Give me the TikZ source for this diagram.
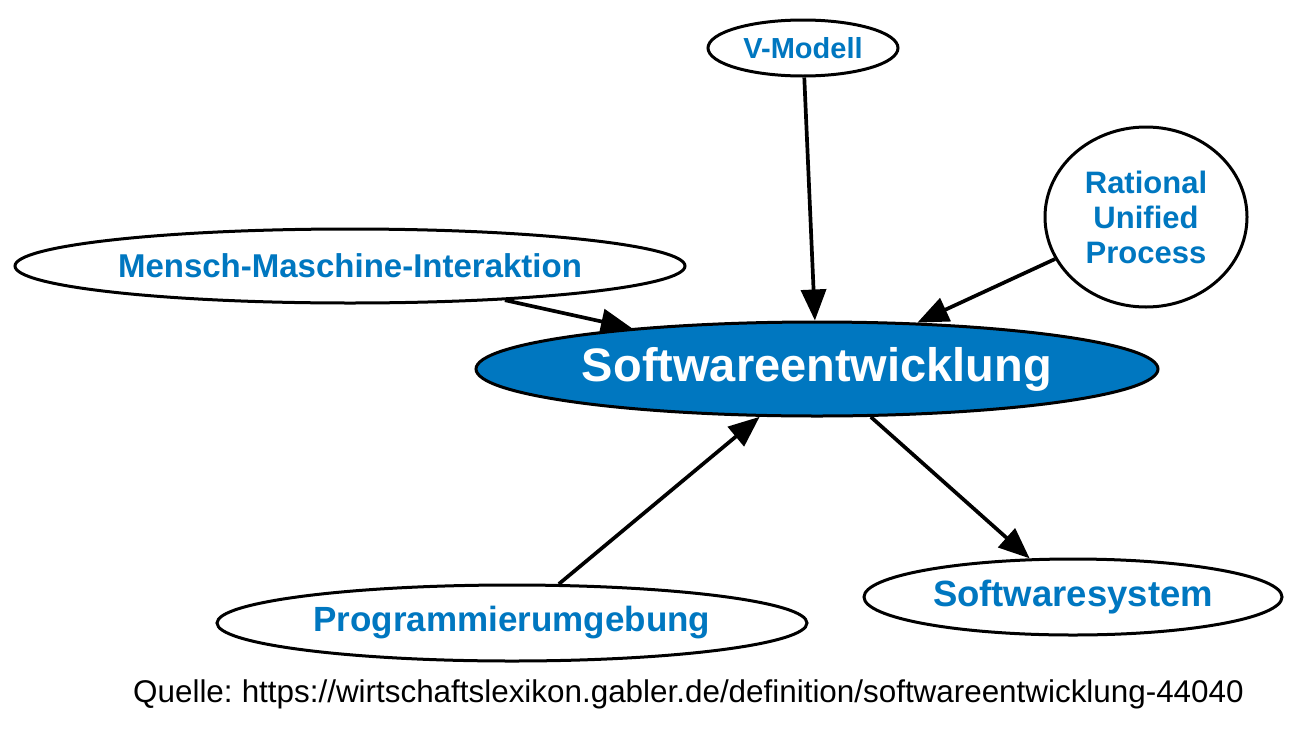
\documentclass[tikz,border=0pt]{standalone}
\usepackage{fontspec}
\setmainfont{Liberation Sans}
\usetikzlibrary{shapes.geometric,arrows.meta}
\definecolor{gblue}{RGB}{0,119,192}
\tikzset{
  topic/.style={ellipse,draw=black,line width=3pt,fill=white,inner sep=0pt,
    text=gblue,font=\bfseries,align=center},
  link/.style={line width=3.7pt,-{Triangle[length=31pt,width=25pt]}},
}
\newcommand{\fs}[1]{\fontsize{#1}{#1}\selectfont}
\begin{document}
\begin{tikzpicture}[x=1pt,y=-1pt]
\useasboundingbox (0,0) rectangle (1300,747);
\node[topic,minimum width=190pt,minimum height=56pt,font=\bfseries\fs{29}] (vm) at (803,48) {V-Modell};
\node[topic,minimum width=202pt,minimum height=180pt,font=\bfseries\fs{31}\linespread{1.13}\selectfont] (rup) at (1146,217) {Rational\\Unified\\Process};
\node[topic,minimum width=670pt,minimum height=74pt,font=\bfseries\fs{33}] (mmi) at (350,266) {Mensch-Maschine-Interaktion};
\node[topic,minimum width=682pt,minimum height=94pt,fill=gblue,text=white,font=\bfseries\fs{47}] (se) at (817,369) {Softwareentwicklung};
\node[topic,minimum width=590pt,minimum height=76pt,font=\bfseries\fs{35}] (pu) at (512,623) {Programmierumgebung};
\node[topic,minimum width=418pt,minimum height=76pt,font=\bfseries\fs{36.5}] (ss) at (1073,597) {Softwaresystem};
\node[anchor=west,inner sep=0pt,font=\fs{31.4}] (src) at (133,694) {Quelle:\hspace{-0.08em} https://wirtschaftslexikon.gabler.de/definition/softwareentwicklung-44040};
\draw[link] (vm) -- (se);
\draw[link] (rup) -- (se);
\draw[link] (mmi) -- (se);
\draw[link] (pu) -- (se);
\draw[link] (se) -- (ss);
\end{tikzpicture}
\end{document}
